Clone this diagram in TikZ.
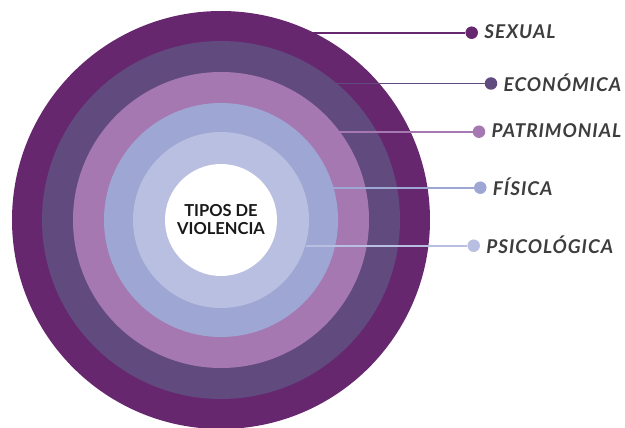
\documentclass[tikz,border=0pt]{standalone}
\usepackage{fontspec}
\setmainfont{Lato}
\usetikzlibrary{positioning}
\definecolor{ring-sexual}{HTML}{67276F}
\definecolor{ring-economica}{HTML}{614A7E}
\definecolor{ring-patrimonial}{HTML}{A678B2}
\definecolor{ring-fisica}{HTML}{9EA6D3}
\definecolor{ring-psicologica}{HTML}{B9BFE1}
\definecolor{tag-grey}{HTML}{3D3D3D}

\begin{document}
\begin{tikzpicture}[
    x=1pt, y=-1pt,
    ring/.style={ circle, inner sep=0pt, },
    dot/.style={ circle, inner sep=0pt, minimum size=12.5pt, },
    link/.style={ line width=1.8pt, },
    tag/.style={
        inner sep=0pt, text=tag-grey,
        font=\bfseries\itshape\fontsize{19}{19}\selectfont\addfontfeature{LetterSpace=5},
    },
]
\useasboundingbox (0,0) rectangle (625,428);

\foreach \name/\r in {sexual/209,economica/179,patrimonial/148,fisica/117,psicologica/88}
    { \node[ring, fill=ring-\name, minimum size={2*\r pt}] (\name) at (221,220) {}; }
\node[ring, fill=white, minimum size=112pt] (core) at (221,220) {};
\node[align=center, font=\bfseries\fontsize{16.5}{18}\selectfont, text=black!90] (title)
    at (core) {TIPOS DE\\VIOLENCIA};

\foreach \name/\x/\y/\a/\txt in {
    sexual/471.7/32.7/64/SEXUAL,
    economica/491/83.5/50/ECONÓMICA,
    patrimonial/479/131.7/37/PATRIMONIAL,
    fisica/480.3/187.7/17/FÍSICA,
    psicologica/473.7/245.7/-16/PSICOLÓGICA}
{
    \node[dot, fill=ring-\name] (\name-dot) at (\x,\y) {};
    \draw[link, ring-\name] (\name-dot) -- (\name-dot -| \name.\a);
    \node[tag, right=6pt of \name-dot, yshift=1pt] (\name-tag) {\txt};
}
\end{tikzpicture}
\end{document}
